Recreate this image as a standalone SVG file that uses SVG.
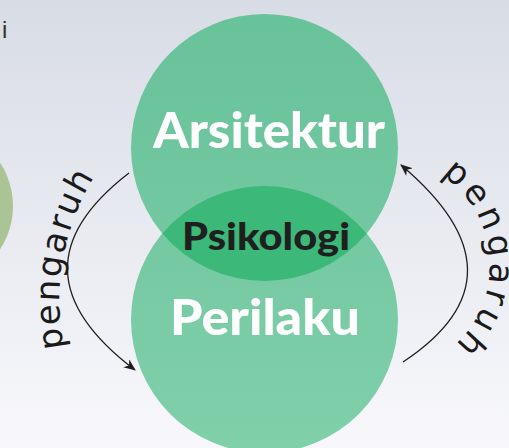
<svg xmlns="http://www.w3.org/2000/svg" width="509" height="448" viewBox="0 0 509 448">
  <defs>
    <linearGradient id="bg" x1="0" y1="0" x2="0" y2="1">
      <stop offset="0" stop-color="#d8dce5"/>
      <stop offset="1" stop-color="#f8f8fc"/>
    </linearGradient>
    <linearGradient id="gTop" gradientUnits="userSpaceOnUse" x1="0" y1="14" x2="0" y2="281">
      <stop offset="0" stop-color="#68c29a"/>
      <stop offset="1" stop-color="#75c9a2"/>
    </linearGradient>
    <linearGradient id="gBot" gradientUnits="userSpaceOnUse" x1="0" y1="186" x2="0" y2="448">
      <stop offset="0" stop-color="#72c7a0"/>
      <stop offset="1" stop-color="#80d0aa"/>
    </linearGradient>
    <marker id="arr" viewBox="0 0 12 10" refX="11" refY="5" markerWidth="12" markerHeight="10" markerUnits="userSpaceOnUse" orient="auto">
      <path d="M0,0 L12,5 L0,10 L3.5,5 Z" fill="#1e1e1e"/>
    </marker>
    <path id="tpL" d="M64,348 A238,238 0 0 1 105.5,160"/>
    <path id="tpR" d="M436.3,171.7 A108,108 0 0 1 436.3,358.3"/>
  </defs>
  <style>
    .big { font-family: Lato, "DejaVu Sans", sans-serif; font-weight: 900; fill: #ffffff; }
    .mid { font-family: Lato, "DejaVu Sans", sans-serif; font-weight: 900; fill: #1f1f1f; }
    .conn { fill: none; stroke: #1e1e1e; stroke-width: 1.3; marker-end: url(#arr); }
    .lbl { font-family: "DejaVu Sans", sans-serif; fill: #1a1a1a; }
  </style>
  <rect x="0" y="0" width="509" height="448" fill="url(#bg)"/>
  <circle cx="-66" cy="206" r="79" fill="#abc496"/>
  <text x="2" y="38" font-family="Liberation Sans, sans-serif" font-size="24" fill="#333333">i</text>

  <g id="node-arsitektur">
    <circle cx="264.5" cy="147.5" r="133.5" fill="url(#gTop)"/>
  </g>
  <g id="node-perilaku">
    <circle cx="264.5" cy="319.5" r="133.5" fill="url(#gBot)"/>
  </g>
  <g id="node-psikologi">
    <path d="M162.4,233.5 A133.5,133.5 0 0 1 366.6,233.5 A133.5,133.5 0 0 1 162.4,233.5 Z" fill="#3cb878"/>
  </g>
  <g id="labels">
    <text class="big" x="153" y="148" font-size="50" textLength="232" lengthAdjust="spacingAndGlyphs">Arsitektur</text>
    <text class="mid" x="182" y="250" font-size="37" textLength="168" lengthAdjust="spacingAndGlyphs">Psikologi</text>
    <text class="big" x="170" y="335" font-size="49" textLength="190" lengthAdjust="spacingAndGlyphs">Perilaku</text>
  </g>

  <g id="connectors">
    <path class="conn" d="M129,173 Q3,270 135,370"/>
    <path class="conn" d="M403,362 Q533,276 401,165"/>
    <text class="lbl" font-size="34" letter-spacing="2"><textPath href="#tpL" font-size="34">pengaruh</textPath></text>
    <text class="lbl" font-size="34" letter-spacing="4.5"><textPath href="#tpR" font-size="34" startOffset="6">pengaruh</textPath></text>
  </g>
</svg>
